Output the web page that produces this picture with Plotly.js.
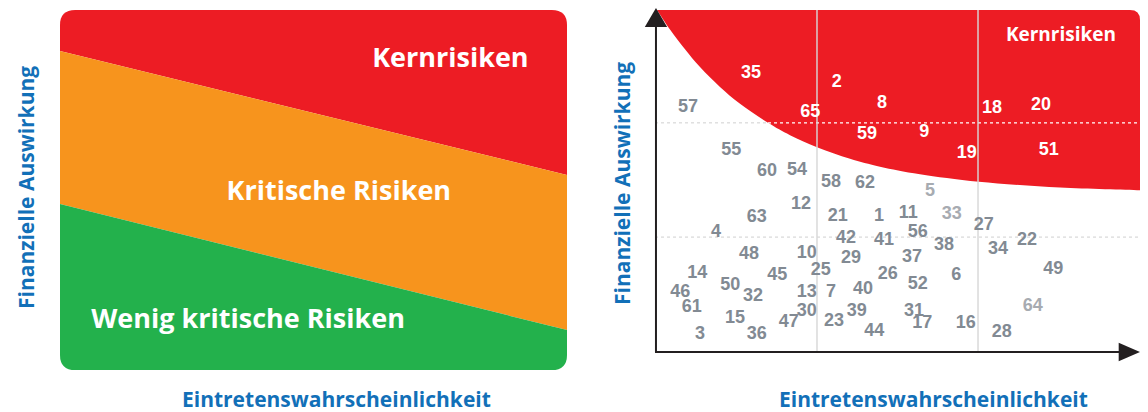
<!DOCTYPE html>
<html>
<head>
<meta charset="utf-8">
<script src="https://cdn.plot.ly/plotly-3.0.1.min.js"></script>
<style>html,body{margin:0;padding:0;background:#fff;}#chart{width:1148px;height:412px;}</style>
</head>
<body>
<div id="chart"></div>
<script>
// ---------- Left panel: zone boundaries (0..100 scale) ----------
var zoneNames = ["Kernrisiken", "Kritische Risiken", "Wenig kritische Risiken"];
var zoneLabelX = [77.0, 55.0, 37.1];
var zoneLabelY = [86.0, 49.2, 13.6];
var upperBoundaryY = [88.6, 54.2];   // red/orange boundary at x=0 and x=100
var lowerBoundaryY = [46.1, 11.1];   // orange/green boundary at x=0 and x=100

// ---------- Right panel: core-risk boundary curve ----------
var curveX = [0.41, 3.09, 6.19, 9.28, 13.40, 17.53, 23.30, 27.84, 33.40, 40.21, 46.39, 54.64, 66.80, 83.51, 100];
var curveY = [100.0, 94.3, 88.5, 83.3, 77.5, 72.6, 67.0, 63.4, 59.9, 56.5, 54.2, 52.0, 49.8, 48.1, 47.3];
var gridX = [33.4, 66.6];
var gridY = [33.6, 67.0];

// Risks inside the core-risk zone
var coreLabels = ["35", "2", "8", "65", "18", "20", "59", "9", "19", "51"];
var coreX = [19.8, 37.5, 46.8, 32.0, 69.5, 79.6, 43.7, 55.5, 64.3, 81.2];
var coreY = [81.3, 78.9, 72.8, 69.9, 71.1, 72.2, 63.7, 64.3, 57.9, 58.8];

// Other risks
var otherLabels = ["57","55","60","54","58","62","12","63","21","1","11","4","42","41","56","38","34","22","48","10","29","37","14","45","25","26","6","49","50","52","46","32","13","7","40","61","30","39","31","15","47","23","17","16","44","28","3","36","27"];
var otherX = [6.8,15.7,23.1,29.3,36.3,43.3,30.1,21.0,37.7,46.2,52.2,12.6,39.4,47.2,54.2,59.6,70.7,76.7,19.4,31.3,40.4,53.0,8.7,25.2,34.2,48.0,62.1,82.1,15.5,54.2,5.2,20.2,31.3,36.3,42.9,7.6,31.3,41.6,53.4,16.5,27.6,36.9,55.1,64.1,45.2,71.5,9.3,21.0,67.8];
var otherY = [71.6,58.8,52.9,53.2,49.7,49.4,43.0,39.2,39.5,39.5,40.4,34.8,33.3,32.7,34.8,31.0,30.1,32.5,28.4,28.7,27.2,27.5,23.1,22.5,23.7,22.8,22.5,24.0,19.3,19.6,17.3,16.1,17.3,17.3,18.4,12.9,11.7,11.7,11.7,9.9,8.5,8.8,8.2,8.2,6.1,5.8,5.0,5.0,37.1];

// Faded (lighter) risks
var fadedLabels = ["5", "33", "64"];
var fadedX = [56.7, 61.2, 77.9];
var fadedY = [46.8, 40.1, 13.2];

var xTitle = "Eintretenswahrscheinlichkeit";
var yTitle = "Finanzielle Auswirkung";

// ---------- helpers ----------
function splinePath(xs, ys) {
  var d = "M " + xs[0] + "," + ys[0];
  var n = xs.length;
  for (var i = 0; i < n - 1; i++) {
    var x0 = xs[Math.max(i - 1, 0)], y0 = ys[Math.max(i - 1, 0)];
    var x1 = xs[i], y1 = ys[i];
    var x2 = xs[i + 1], y2 = ys[i + 1];
    var x3 = xs[Math.min(i + 2, n - 1)], y3 = ys[Math.min(i + 2, n - 1)];
    var c1x = x1 + (x2 - x0) / 6, c1y = y1 + (y2 - y0) / 6;
    var c2x = x2 - (x3 - x1) / 6, c2y = y2 - (y3 - y1) / 6;
    d += " C " + c1x + "," + c1y + " " + c2x + "," + c2y + " " + x2 + "," + y2;
  }
  return d;
}

var RED = "#ed1c24", ORANGE = "#f7941d", GREEN = "#23b14c";
var BLUE = "#1270b8";
var GRAY = "#828a93", LIGHTGRAY = "#a7abb1";

// left rounded corners (in data units)
var lrx = 3.0, lry = 4.2;
var shapes = [];
shapes.push({type: "path", xref: "x2", yref: "y2", layer: "below", line: {width: 0}, fillcolor: RED,
  path: "M 0," + upperBoundaryY[0] + " L 0," + (100 - lry) + " Q 0,100 " + lrx + ",100 L " + (100 - lrx) + ",100 Q 100,100 100," + (100 - lry) + " L 100," + upperBoundaryY[1] + " Z"});
shapes.push({type: "path", xref: "x2", yref: "y2", layer: "below", line: {width: 0}, fillcolor: ORANGE,
  path: "M 0," + lowerBoundaryY[0] + " L 0," + upperBoundaryY[0] + " L 100," + upperBoundaryY[1] + " L 100," + lowerBoundaryY[1] + " Z"});
shapes.push({type: "path", xref: "x2", yref: "y2", layer: "below", line: {width: 0}, fillcolor: GREEN,
  path: "M 0," + lowerBoundaryY[0] + " L 100," + lowerBoundaryY[1] + " L 100," + lry + " Q 100,0 " + (100 - lrx) + ",0 L " + lrx + ",0 Q 0,0 0," + lry + " Z"});

// right red zone
var rrx = 2.06, rry = 2.92;
shapes.push({type: "path", xref: "x", yref: "y", layer: "below", line: {width: 0}, fillcolor: RED,
  path: splinePath(curveX, curveY) + " L 100," + (100 - rry) + " Q 100,100 " + (100 - rrx) + ",100 L " + curveX[0] + ",100 Z"});

// horizontal dotted lines (gray on white, white on red)
var splitIdx = 6;
shapes.push({type: "line", xref: "x", yref: "y", layer: "below", x0: 0, x1: 100, y0: gridY[0], y1: gridY[0], line: {color: "#cfcfcf", width: 1, dash: "dot"}});
shapes.push({type: "line", xref: "x", yref: "y", layer: "below", x0: 0, x1: curveX[splitIdx], y0: gridY[1], y1: gridY[1], line: {color: "#cfcfcf", width: 1, dash: "dot"}});
shapes.push({type: "line", xref: "x", yref: "y", layer: "below", x0: curveX[splitIdx], x1: 100, y0: gridY[1], y1: gridY[1], line: {color: "#ffffff", width: 1.2, dash: "dot"}});
// vertical grid lines
gridX.forEach(function (gx) {
  shapes.push({type: "line", xref: "x", yref: "y", layer: "below", x0: gx, x1: gx, y0: 0, y1: 100, line: {color: "rgba(215,215,215,0.95)", width: 1.5}});
});
// axes with arrows
shapes.push({type: "line", xref: "x", yref: "y", layer: "below", x0: 0.2, x1: 0.2, y0: 0, y1: 96, line: {color: "#231f20", width: 2}});
shapes.push({type: "line", xref: "x", yref: "y", layer: "below", x0: 0, x1: 96, y0: 0, y1: 0, line: {color: "#231f20", width: 2}});
shapes.push({type: "path", xref: "x", yref: "y", layer: "below", line: {width: 0}, fillcolor: "#231f20",
  path: "M 0.2,100.6 L -2.1,95.0 L 2.5,95.0 Z"});
shapes.push({type: "path", xref: "x", yref: "y", layer: "below", line: {width: 0}, fillcolor: "#231f20",
  path: "M 100,0 L 95.6,2.7 L 95.6,-2.7 Z"});

var numFont = "Liberation Sans, Arial, sans-serif";
var traces = [
  {type: "scatter", mode: "text", xaxis: "x2", yaxis: "y2", x: zoneLabelX, y: zoneLabelY, text: zoneNames,
   textfont: {family: "Open Sans", size: 27, color: "#ffffff", weight: 700}, cliponaxis: false, hoverinfo: "skip"},
  {type: "scatter", mode: "text", xaxis: "x", yaxis: "y", x: [83.7], y: [92.4], text: [zoneNames[0]],
   textfont: {family: "Open Sans", size: 19, color: "#ffffff", weight: 700}, cliponaxis: false, hoverinfo: "skip"},
  {type: "scatter", mode: "text", xaxis: "x", yaxis: "y", x: coreX, y: coreY, text: coreLabels,
   textfont: {family: numFont, size: 18, color: "#ffffff", weight: 700}, cliponaxis: false, hoverinfo: "skip"},
  {type: "scatter", mode: "text", xaxis: "x", yaxis: "y", x: otherX, y: otherY, text: otherLabels,
   textfont: {family: numFont, size: 18, color: GRAY, weight: 700}, cliponaxis: false, hoverinfo: "skip"},
  {type: "scatter", mode: "text", xaxis: "x", yaxis: "y", x: fadedX, y: fadedY, text: fadedLabels,
   textfont: {family: numFont, size: 18, color: LIGHTGRAY, weight: 700}, cliponaxis: false, hoverinfo: "skip"}
];

var titleFont = {family: "Open Sans", size: 21, color: BLUE, weight: 700};
var annotations = [
  {xref: "paper", yref: "paper", x: 336 / 1148, y: 1 - 399 / 412, text: xTitle, showarrow: false, font: titleFont, xanchor: "center", yanchor: "middle"},
  {xref: "paper", yref: "paper", x: 933 / 1148, y: 1 - 399 / 412, text: xTitle, showarrow: false, font: titleFont, xanchor: "center", yanchor: "middle"},
  {xref: "paper", yref: "paper", x: 26 / 1148, y: 1 - 188 / 412, text: yTitle, showarrow: false, font: titleFont, textangle: -90, xanchor: "center", yanchor: "middle"},
  {xref: "paper", yref: "paper", x: 622 / 1148, y: 1 - 184 / 412, text: yTitle, showarrow: false, font: titleFont, textangle: -90, xanchor: "center", yanchor: "middle"}
];

var hidden = {visible: false, fixedrange: true, showgrid: false, zeroline: false};
var layout = {
  width: 1148, height: 412,
  margin: {l: 0, r: 0, t: 0, b: 0},
  paper_bgcolor: "#ffffff", plot_bgcolor: "rgba(0,0,0,0)",
  showlegend: false,
  xaxis: Object.assign({}, hidden, {domain: [640 / 1148, 1146 / 1148], range: [(640 - 655) / 4.85, (1146 - 655) / 4.85]}),
  yaxis: Object.assign({}, hidden, {domain: [(412 - 365) / 412, (412 - 4) / 412], range: [(352 - 365) / 3.42, (352 - 4) / 3.42]}),
  xaxis2: Object.assign({}, hidden, {domain: [60 / 1148, 567 / 1148], range: [0, 100], anchor: "y2"}),
  yaxis2: Object.assign({}, hidden, {domain: [42 / 412, 402 / 412], range: [0, 100], anchor: "x2"}),
  shapes: shapes,
  annotations: annotations
};

Plotly.newPlot("chart", traces, layout, {displayModeBar: false, staticPlot: true});
</script>
</body>
</html>
